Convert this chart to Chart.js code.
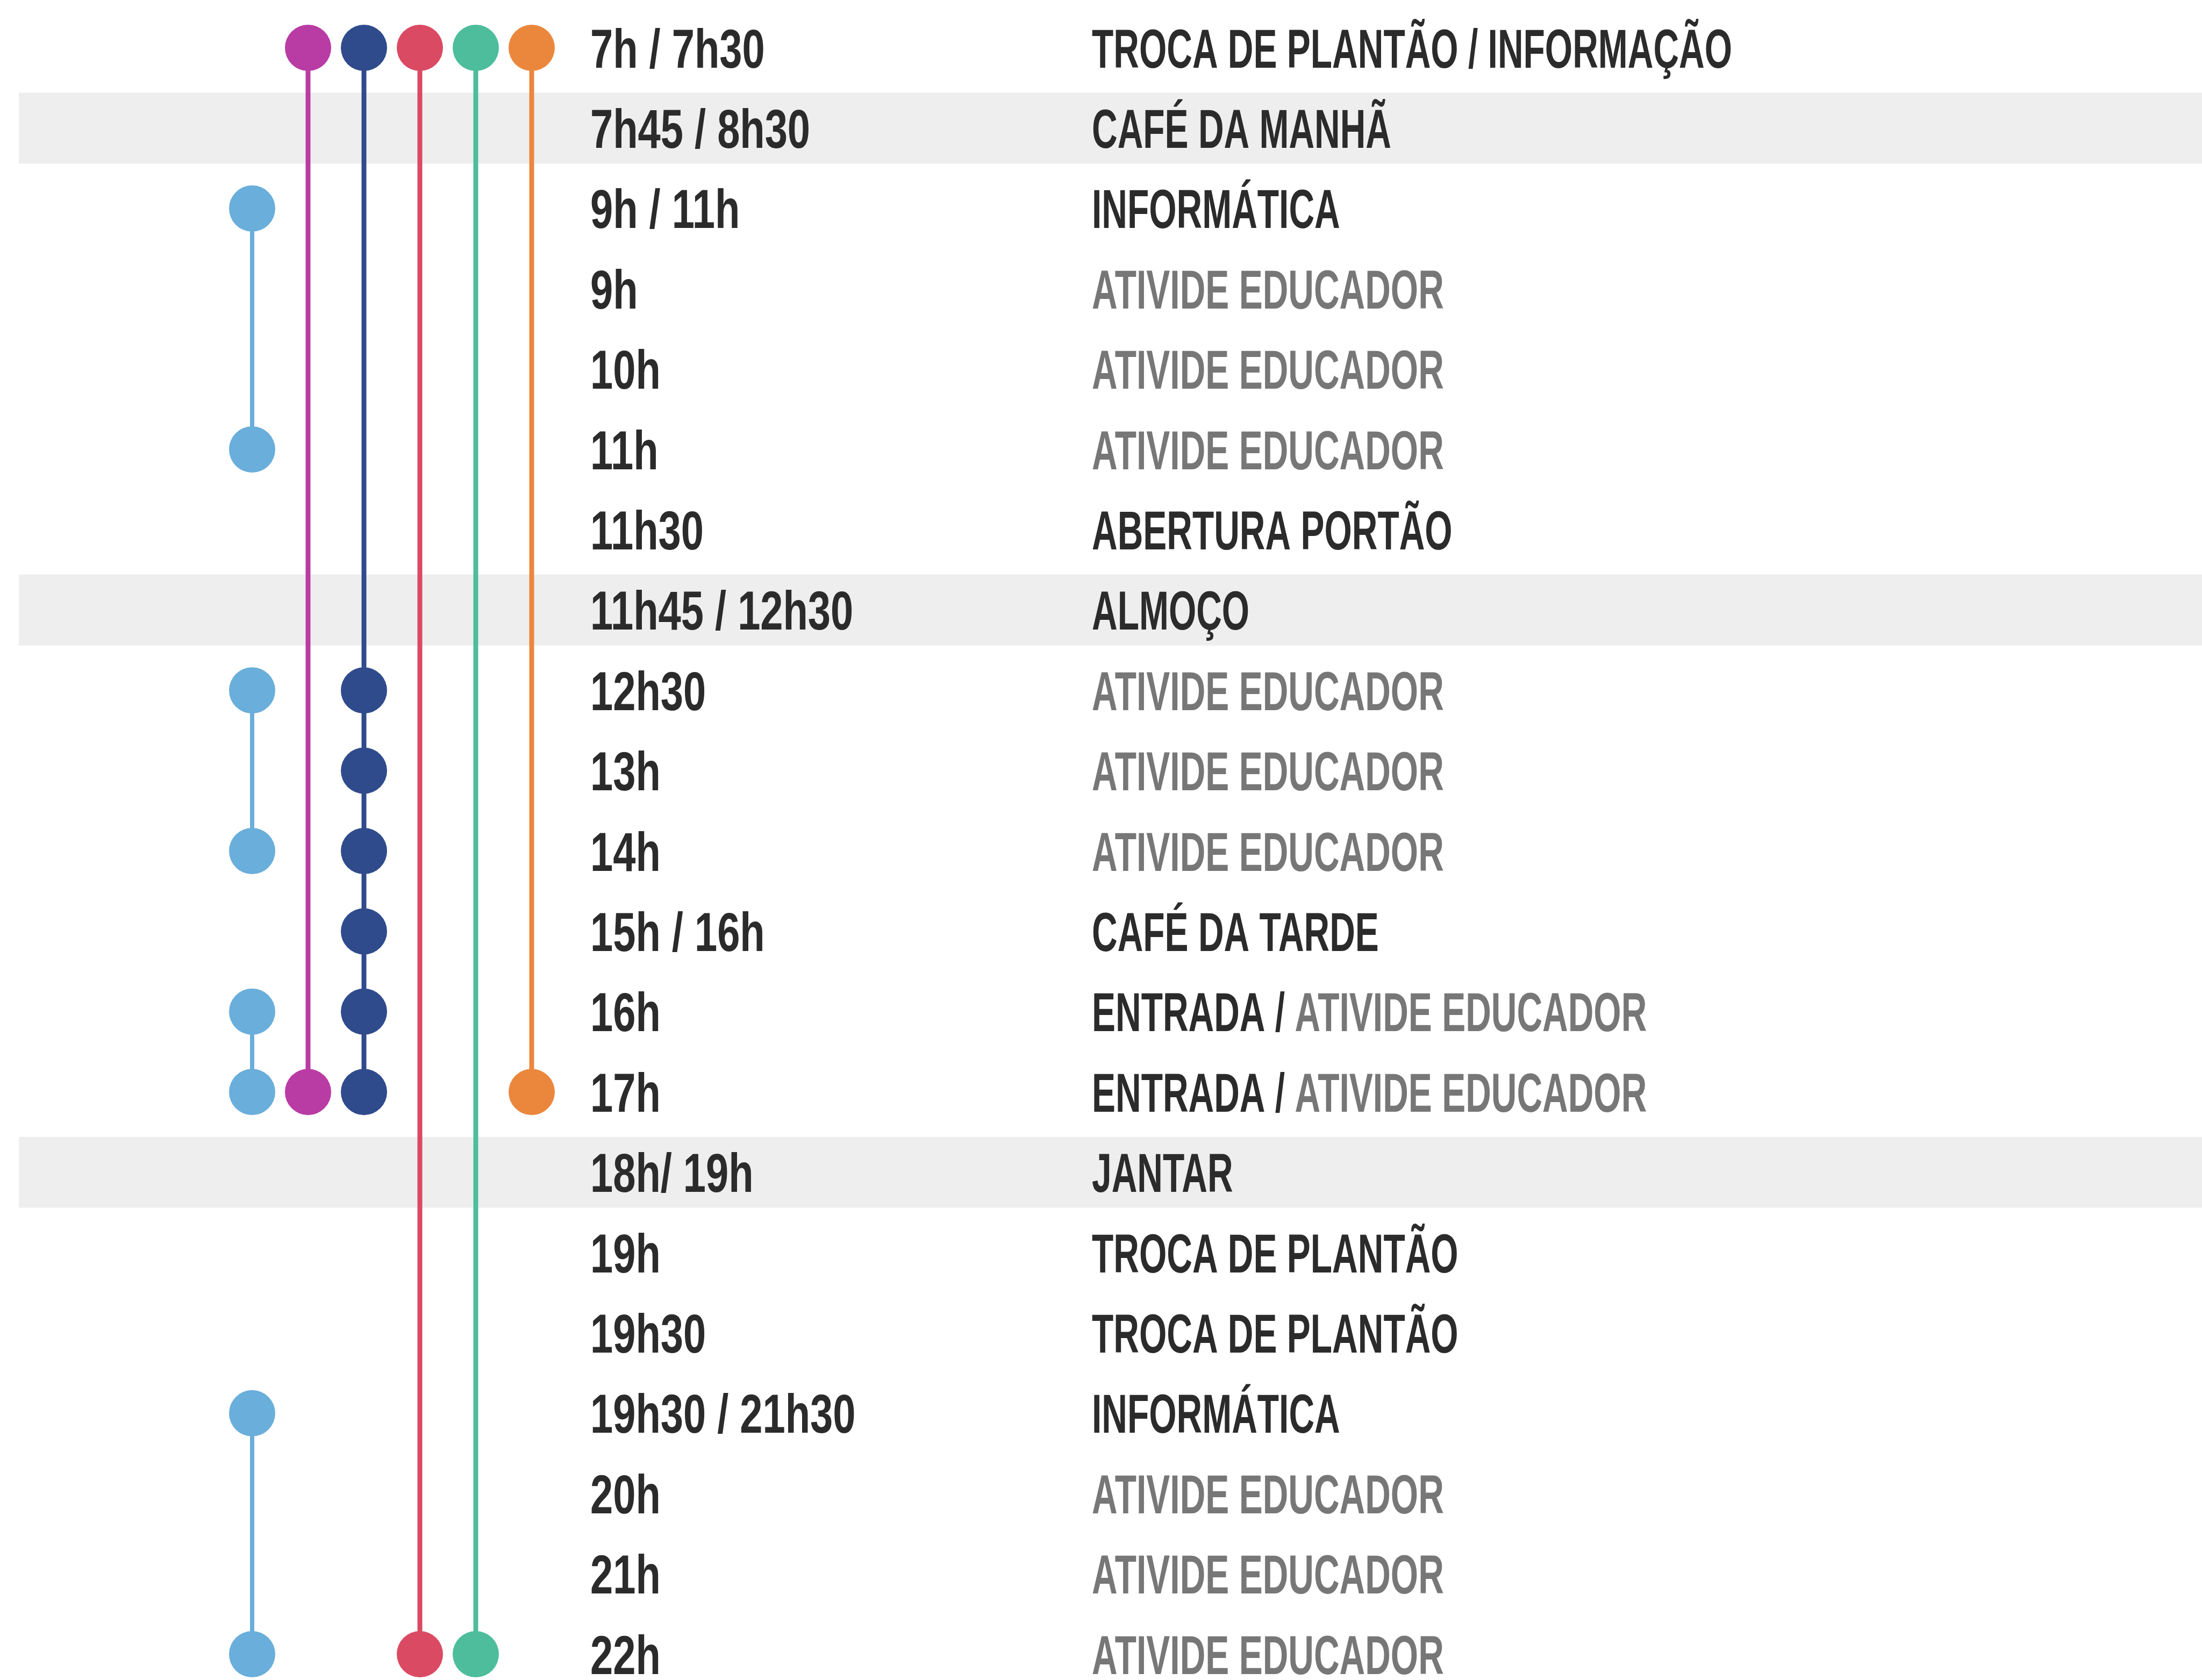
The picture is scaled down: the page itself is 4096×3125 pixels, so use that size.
<!DOCTYPE html>
<html>
<head>
<meta charset="utf-8">
<script src="https://cdn.jsdelivr.net/npm/chart.js@4.4.1/dist/chart.umd.min.js"></script>
<style>
  html, body { margin: 0; padding: 0; background: #ffffff; }
  #wrap { width: 4096px; height: 3125px; position: relative; }
</style>
</head>
<body>
<div id="wrap"><canvas id="scheduleChart"></canvas></div>
<script>
// rows of the day schedule (top to bottom)
const timeLabels = ['7h / 7h30', '7h45 / 8h30', '9h / 11h', '9h', '10h', '11h', '11h30',
  '11h45 / 12h30', '12h30', '13h', '14h', '15h / 16h', '16h', '17h', '18h/ 19h', '19h',
  '19h30', '19h30 / 21h30', '20h', '21h', '22h'];

const activities = ['TROCA DE PLANTÃO / INFORMAÇÃO', 'CAFÉ DA MANHÃ', 'INFORMÁTICA',
  'ATIVIDE EDUCADOR', 'ATIVIDE EDUCADOR', 'ATIVIDE EDUCADOR', 'ABERTURA PORTÃO', 'ALMOÇO',
  'ATIVIDE EDUCADOR', 'ATIVIDE EDUCADOR', 'ATIVIDE EDUCADOR', 'CAFÉ DA TARDE',
  'ENTRADA / ATIVIDE EDUCADOR', 'ENTRADA / ATIVIDE EDUCADOR', 'JANTAR', 'TROCA DE PLANTÃO',
  'TROCA DE PLANTÃO', 'INFORMÁTICA', 'ATIVIDE EDUCADOR', 'ATIVIDE EDUCADOR', 'ATIVIDE EDUCADOR'];

const mealRows = [1, 7, 14];

// each track: row indices of its dots, one list per connected run
const lightBlueRuns = [[2, 5], [8, 10], [12, 13], [17, 20]];
const magentaRuns = [[0, 13]];
const navyRuns = [[0, 8, 9, 10, 11, 12, 13]];
const redRuns = [[0, 20]];
const greenRuns = [[0, 20]];
const orangeRuns = [[0, 13]];

const tracks = [
  { runs: lightBlueRuns, color: '#6aaedb', width: 8 },
  { runs: magentaRuns, color: '#b93ba4', width: 9 },
  { runs: navyRuns, color: '#2f4b8c', width: 9 },
  { runs: redRuns, color: '#da4a63', width: 9 },
  { runs: greenRuns, color: '#4dbd9c', width: 9 },
  { runs: orangeRuns, color: '#eb873d', width: 9 }
];

// layout (output pixels)
const W = 4096, H = 3125;
const ROW0 = 89, ROW_STEP = 149.4;
const COL0 = 469, COL_STEP = 104;
const DOT_R = 43;
const TIME_X = 1098, ACT_X = 2031;
const FONT_SIZE = 102, CAP = 0.716;
const ACT_WIDTH = 1191; // width of the longest activity line
const TIME_WIDEN = 1.15;
const DARK = '#2b2b2b', GRAY = '#777777';
const BAND_LEFT = 35, BAND_HALF = 66, BAND_COLOR = '#eeeeee';

const datasets = [];
tracks.forEach((t, col) => {
  t.runs.forEach(run => {
    datasets.push({
      data: run.map(r => ({ x: col, y: r })),
      borderColor: t.color,
      backgroundColor: t.color,
      borderWidth: t.width,
      pointRadius: DOT_R,
      pointHoverRadius: DOT_R,
      pointBorderWidth: 0,
      tension: 0,
      clip: false
    });
  });
});

const bandsPlugin = {
  id: 'bands',
  beforeDatasetsDraw(chart) {
    const { ctx, scales: { y } } = chart;
    ctx.save();
    ctx.fillStyle = BAND_COLOR;
    mealRows.forEach(r => {
      const py = y.getPixelForValue(r);
      ctx.fillRect(BAND_LEFT, py - BAND_HALF, chart.width - BAND_LEFT, BAND_HALF * 2);
    });
    ctx.restore();
  }
};

const textPlugin = {
  id: 'scheduleText',
  afterDatasetsDraw(chart) {
    const { ctx, scales: { y } } = chart;
    ctx.save();
    ctx.font = 'bold ' + FONT_SIZE + 'px "Liberation Sans", Arial, sans-serif';
    ctx.textBaseline = 'alphabetic';
    ctx.textAlign = 'left';
    const sx = ACT_WIDTH / ctx.measureText(activities[0]).width;

    function put(text, x, py, color, scaleX) {
      ctx.save();
      ctx.translate(x, py);
      ctx.scale(scaleX, 1);
      ctx.fillStyle = color;
      ctx.fillText(text, 0, 0);
      ctx.restore();
      return ctx.measureText(text).width * scaleX;
    }

    timeLabels.forEach((lab, i) => {
      const py = y.getPixelForValue(i) + FONT_SIZE * CAP / 2;
      put(lab, TIME_X, py, DARK, sx * TIME_WIDEN);
    });

    activities.forEach((act, i) => {
      const py = y.getPixelForValue(i) + FONT_SIZE * CAP / 2;
      const k = act.indexOf('ATIVIDE EDUCADOR');
      if (k < 0) {
        put(act, ACT_X, py, DARK, sx);
      } else {
        const head = act.slice(0, k);
        let x = ACT_X;
        if (head) x += put(head, x, py, DARK, sx);
        put(act.slice(k), x, py, GRAY, sx);
      }
    });
    ctx.restore();
  }
};

new Chart(document.getElementById('scheduleChart'), {
  type: 'line',
  data: { datasets },
  plugins: [bandsPlugin, textPlugin],
  options: {
    responsive: true,
    maintainAspectRatio: false,
    devicePixelRatio: 1,
    animation: false,
    layout: { padding: 0, autoPadding: false },
    plugins: { legend: { display: false }, tooltip: { enabled: false } },
    scales: {
      x: {
        type: 'linear',
        display: false,
        min: -COL0 / COL_STEP,
        max: (W - COL0) / COL_STEP
      },
      y: {
        type: 'linear',
        display: false,
        reverse: true,
        min: -ROW0 / ROW_STEP,
        max: (H - ROW0) / ROW_STEP
      }
    }
  }
});
</script>
</body>
</html>
